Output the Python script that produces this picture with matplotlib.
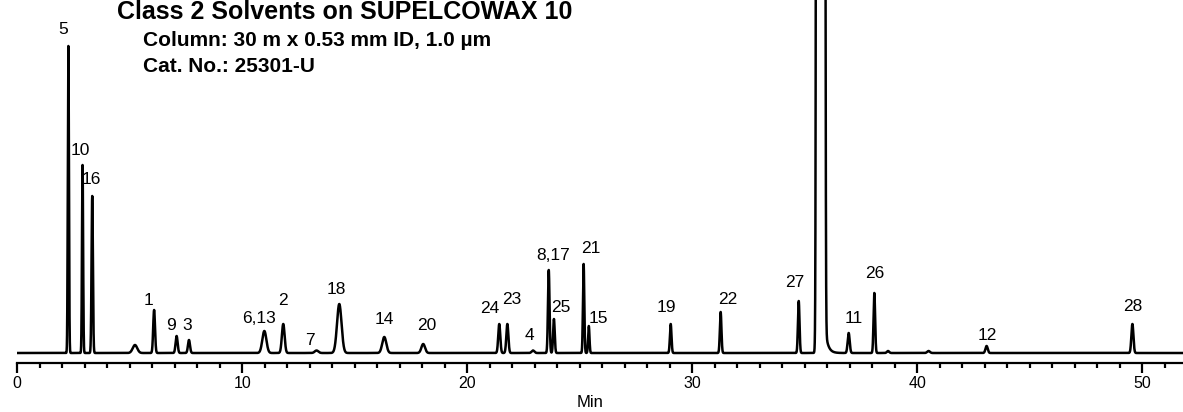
import numpy as np
import matplotlib
matplotlib.use("Agg")
import matplotlib.pyplot as plt
from matplotlib.ticker import MultipleLocator

# ---- data (retention time in min, height in detector units, peak sigma in min) ----
peak_rt = [2.27, 2.90, 3.33, 5.23, 6.08, 7.08, 7.63, 10.98, 11.82, 13.30, 14.31,
           16.31, 18.04, 21.42, 21.78, 22.92, 23.62, 23.85, 25.17, 25.40, 29.04,
           31.26, 34.73, 35.705, 36.95, 38.09, 38.70, 40.50, 43.08, 49.56]
peak_height = [307, 188, 157, 8, 43, 17, 13, 22, 29, 2.5, 49,
               16, 9, 29, 29, 2.5, 83, 34, 89, 27, 29,
               41, 52, 1.0e6, 20, 60, 2, 2, 7, 29]
peak_sigma = [0.025, 0.025, 0.03, 0.10, 0.04, 0.045, 0.045, 0.09, 0.06, 0.08, 0.10,
              0.09, 0.08, 0.045, 0.045, 0.06, 0.035, 0.035, 0.03, 0.03, 0.035,
              0.035, 0.035, 0.055, 0.045, 0.035, 0.05, 0.06, 0.05, 0.045]
# tailing of the solvent peak (start, amplitude, decay in min)
tail_start = [35.93]
tail_amp = [20]
tail_tau = [0.12]

peak_labels = ["5", "10", "16", "1", "9", "3", "6,13", "2", "7", "18", "14", "20",
               "24", "23", "4", "8,17", "25", "21", "15", "19", "22", "27", "11",
               "26", "12", "28"]
label_x = [2.04, 2.79, 3.31, 5.85, 6.82, 7.57, 10.73, 11.82, 13.01, 14.20, 16.31, 18.20,
           21.01, 21.97, 22.74, 23.80, 24.15, 25.48, 25.82, 28.86, 31.56, 34.56, 37.19,
           38.09, 43.11, 49.56]
label_y = [323.7, 202.3, 173.7, 52.3, 28, 28, 34.7, 52.3, 12.3, 63, 33.7, 27,
           44.7, 53, 17, 98, 45.3, 104.7, 34.7, 45.7, 53, 70.3, 34.7,
           79.7, 18, 46.3]

x_ticks = [0, 10, 20, 30, 40, 50]

# ---- build trace ----
t = np.linspace(0, 51.85, 40000)
y = np.zeros_like(t)
for rt, h, s in zip(peak_rt, peak_height, peak_sigma):
    y += h * np.exp(-0.5 * ((t - rt) / s) ** 2)
for t0, a, tau in zip(tail_start, tail_amp, tail_tau):
    m = t >= t0
    y[m] += a * np.exp(-(t[m] - t0) / tau)

W, H = 1183, 412
fig = plt.figure(figsize=(W / 100, H / 100), dpi=100)
ax = fig.add_axes([17.3 / W, (H - 363) / H, 1 - 17.3 / W, 363 / H])
ax.plot(t, y, color="black", lw=1.8, solid_joinstyle="round")
ax.set_xlim(0, (W - 17.3) / 22.5)
ax.set_ylim(-10, 353)

for s in ["left", "right", "top"]:
    ax.spines[s].set_visible(False)
ax.spines["bottom"].set_linewidth(1.6)
ax.set_yticks([])
ax.set_xticks(x_ticks)
ax.xaxis.set_minor_locator(MultipleLocator(1))
ax.tick_params(axis="x", which="major", direction="out", length=7.2, width=1.6,
               labelsize=11.5, pad=2)
ax.tick_params(axis="x", which="minor", direction="out", length=3.6, width=1.6)
for lab in ax.get_xticklabels():
    lab.set_fontfamily("Liberation Sans")

ax.set_xlabel("Min", fontsize=12, family="Liberation Sans")
ax.xaxis.set_label_coords((590 - 17.3) / (W - 17.3), -(402.5 - 363) / 363)
ax.xaxis.label.set_va("center")

for txt, lx, ly in zip(peak_labels, label_x, label_y):
    ax.text(lx, ly, txt, ha="center", va="center", fontsize=12.5,
            family="Liberation Sans")

fig.text(117 / W, 1 - 12 / H, "Class 2 Solvents on SUPELCOWAX 10", ha="left",
         va="center", fontsize=18, fontweight="bold", family="Liberation Sans")
fig.text(143 / W, 1 - 40 / H, "Column: 30 m x 0.53 mm ID, 1.0 µm", ha="left",
         va="center", fontsize=15, fontweight="bold", family="Liberation Sans")
fig.text(143 / W, 1 - 67 / H, "Cat. No.: 25301-U", ha="left",
         va="center", fontsize=15, fontweight="bold", family="Liberation Sans")

fig.savefig("out.png", dpi=100)
